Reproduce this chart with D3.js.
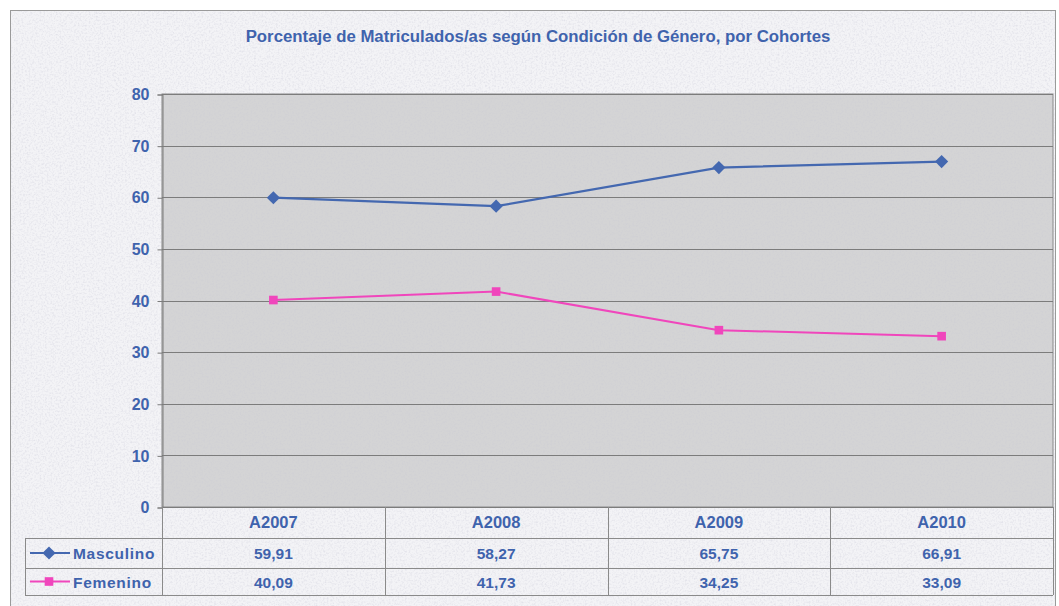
<!DOCTYPE html>
<html>
<head>
<meta charset="utf-8">
<script src="https://cdn.jsdelivr.net/npm/d3@7"></script>
<style>
  body { margin: 0; background: #ffffff; }
  svg { display: block; }
  text { font-family: "Liberation Sans", Arial, sans-serif; font-weight: bold; fill: #3f63ad; }
</style>
</head>
<body>
<svg id="chart"></svg>
<script>
// cohorts and series
var categories = ["A2007", "A2008", "A2009", "A2010"];
var masculino = [59.91, 58.27, 65.75, 66.91];
var femenino = [40.09, 41.73, 34.25, 33.09];
var yTicks = [0, 10, 20, 30, 40, 50, 60, 70, 80];
var seriesNames = ["Masculino", "Femenino"];
var title = "Porcentaje de Matriculados/as según Condición de Género, por Cohortes";

function fmt(v) {
    return v.toFixed(2).replace(".", ",");
}

function draw() {
    var width = 1059, height = 606;
    var svg = d3.select("#chart").attr("width", width).attr("height", height);

    var plot = { left: 162, right: 1053, top: 94, bottom: 507 };
    var rowH = [31, 30, 27];
    var legendLeft = 25;

    // scanned paper speckle
    var defs = svg.append("defs");
    var f = defs.append("filter").attr("id", "speckle")
        .attr("x", 0).attr("y", 0).attr("width", 1).attr("height", 1);
    f.append("feTurbulence")
        .attr("type", "fractalNoise")
        .attr("baseFrequency", 0.55)
        .attr("numOctaves", 2)
        .attr("seed", 3);
    f.append("feColorMatrix")
        .attr("type", "matrix")
        .attr("values", "0 0 0 0 0.55  0 0 0 0 0.55  0 0 0 0 0.65  0 0 -2.2 0 1.25");

    // chart box
    svg.append("rect")
        .attr("x", 10.5).attr("y", 10.5)
        .attr("width", 1045).attr("height", 600)
        .attr("fill", "#f3f3f6")
        .attr("stroke", "#9a9a9a");
    svg.append("rect")
        .attr("x", 11).attr("y", 11)
        .attr("width", 1044).attr("height", 599)
        .attr("filter", "url(#speckle)")
        .attr("opacity", 0.35);

    svg.append("text")
        .attr("x", 538).attr("y", 42)
        .attr("text-anchor", "middle")
        .style("font-size", "16.8px")
        .text(title);

    var x = d3.scaleBand().domain(categories).range([plot.left, plot.right]);
    var y = d3.scaleLinear().domain([0, 80]).range([plot.bottom, plot.top]);
    var cx = function(c) { return x(c) + x.bandwidth() / 2; };

    // plot area
    svg.append("rect")
        .attr("x", plot.left).attr("y", plot.top)
        .attr("width", plot.right - plot.left).attr("height", plot.bottom - plot.top)
        .attr("fill", "#d4d4d5")
        .attr("stroke", "#8a8a8a");
    svg.append("rect")
        .attr("x", plot.left + 1).attr("y", plot.top + 1)
        .attr("width", plot.right - plot.left - 2).attr("height", plot.bottom - plot.top - 2)
        .attr("filter", "url(#speckle)")
        .attr("opacity", 0.25);

    // gridlines
    svg.append("g")
        .selectAll("line")
        .data(yTicks)
        .enter()
        .append("line")
        .attr("x1", plot.left).attr("x2", plot.right)
        .attr("y1", function(d) { return Math.round(y(d)) + 0.5; })
        .attr("y2", function(d) { return Math.round(y(d)) + 0.5; })
        .attr("stroke", "#7c7c7c");

    // y axis
    var yAxis = svg.append("g")
        .attr("transform", "translate(" + (plot.left + 0.5) + ",0.5)")
        .call(d3.axisLeft(y).tickValues(yTicks).tickSize(5).tickPadding(8));
    yAxis.select(".domain").attr("stroke", "#7c7c7c");
    yAxis.selectAll(".tick line").attr("stroke", "#7c7c7c");
    yAxis.selectAll(".tick text")
        .style("font-size", "16px")
        .style("font-family", "\"Liberation Sans\", Arial, sans-serif")
        .attr("fill", "#3f63ad");

    // lines
    var line = d3.line()
        .x(function(d, i) { return cx(categories[i]); })
        .y(function(d) { return y(d); });

    svg.append("path").datum(masculino)
        .attr("d", line)
        .attr("fill", "none")
        .attr("stroke", "#4468b0")
        .attr("stroke-width", 2.2);

    svg.append("path").datum(femenino)
        .attr("d", line)
        .attr("fill", "none")
        .attr("stroke", "#f046bc")
        .attr("stroke-width", 2);

    var diamond = d3.symbol().type(d3.symbolDiamond2).size(110);
    var square = d3.symbol().type(d3.symbolSquare2).size(95);

    svg.append("g").selectAll("path")
        .data(masculino).enter().append("path")
        .attr("transform", function(d, i) { return "translate(" + cx(categories[i]) + "," + y(d) + ")"; })
        .attr("d", diamond)
        .attr("fill", "#4468b0");

    svg.append("g").selectAll("path")
        .data(femenino).enter().append("path")
        .attr("transform", function(d, i) { return "translate(" + cx(categories[i]) + "," + y(d) + ")"; })
        .attr("d", square)
        .attr("fill", "#f046bc");

    // data table
    var rowTop = [plot.bottom, plot.bottom + rowH[0], plot.bottom + rowH[0] + rowH[1]];
    var tableBottom = rowTop[2] + rowH[2];
    var tg = svg.append("g").attr("stroke", "#8a8a8a").attr("stroke-width", 1);

    // vertical separators
    tg.selectAll("line.v")
        .data(categories.concat(["end"]))
        .enter().append("line")
        .attr("x1", function(d) { return Math.round(d === "end" ? plot.right : x(d)) + 0.5; })
        .attr("x2", function(d) { return Math.round(d === "end" ? plot.right : x(d)) + 0.5; })
        .attr("y1", plot.bottom).attr("y2", tableBottom);
    tg.append("line")
        .attr("x1", legendLeft + 0.5).attr("x2", legendLeft + 0.5)
        .attr("y1", rowTop[1]).attr("y2", tableBottom);

    // horizontal separators
    tg.selectAll("line.h")
        .data([rowTop[1], rowTop[2], tableBottom])
        .enter().append("line")
        .attr("x1", legendLeft).attr("x2", plot.right)
        .attr("y1", function(d) { return d + 0.5; })
        .attr("y2", function(d) { return d + 0.5; });

    // header
    svg.append("g").selectAll("text")
        .data(categories).enter().append("text")
        .attr("x", cx)
        .attr("y", rowTop[0] + 21)
        .attr("text-anchor", "middle")
        .style("font-size", "16.5px")
        .text(function(d) { return d; });

    var rows = [masculino, femenino];
    var colors = ["#4468b0", "#f046bc"];
    var markers = [diamond, square];

    rows.forEach(function(vals, r) {
        var top = rowTop[r + 1];
        var mid = top + rowH[r + 1] / 2;
        svg.append("g").selectAll("text")
            .data(vals).enter().append("text")
            .attr("x", function(d, i) { return cx(categories[i]); })
            .attr("y", mid + 6)
            .attr("text-anchor", "middle")
            .style("font-size", "15.5px")
            .text(fmt);

        // legend key
        svg.append("line")
            .attr("x1", 30).attr("x2", 70)
            .attr("y1", mid).attr("y2", mid)
            .attr("stroke", colors[r]).attr("stroke-width", 2);
        svg.append("path")
            .attr("transform", "translate(49," + mid + ")")
            .attr("d", markers[r])
            .attr("fill", colors[r]);
        svg.append("text")
            .attr("x", 73).attr("y", mid + 6)
            .style("font-size", "15.5px")
            .style("letter-spacing", "0.7px")
            .text(seriesNames[r]);
    });
}

window.addEventListener("load", function() {
    draw();
});
</script>
</body>
</html>
